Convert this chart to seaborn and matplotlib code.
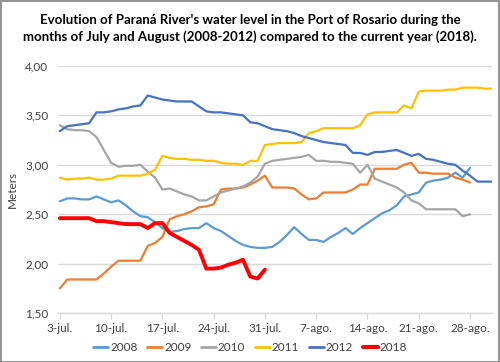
import numpy as np
import pandas as pd
import seaborn as sns
import matplotlib.pyplot as plt
import matplotlib.dates as mdates
from matplotlib.lines import Line2D

# ---- data (daily water level, meters), 3-jul .. 31-ago ----
start_date = "2018-07-03"
years = ["2008", "2009", "2010", "2011", "2012", "2018"]

y2008 = [2.63, 2.66, 2.66, 2.65, 2.65, 2.68, 2.65, 2.62, 2.64, 2.59, 2.53, 2.48, 2.47, 2.42, 2.36,
         2.32, 2.33, 2.35, 2.36, 2.36, 2.41, 2.36, 2.33, 2.28, 2.23, 2.19, 2.17, 2.16, 2.16, 2.17,
         2.22, 2.29, 2.37, 2.30, 2.24, 2.24, 2.22, 2.27, 2.31, 2.36, 2.30, 2.36, 2.41, 2.46, 2.51,
         2.54, 2.59, 2.68, 2.70, 2.72, 2.82, 2.84, 2.85, 2.87, 2.92, 2.87, 2.97]
y2009 = [1.75, 1.84, 1.84, 1.84, 1.84, 1.84, 1.90, 1.97, 2.03, 2.03, 2.03, 2.03, 2.18, 2.21, 2.27,
         2.45, 2.48, 2.50, 2.53, 2.57, 2.58, 2.60, 2.75, 2.76, 2.76, 2.77, 2.80, 2.84, 2.89, 2.77,
         2.77, 2.77, 2.76, 2.70, 2.65, 2.66, 2.72, 2.72, 2.72, 2.72, 2.75, 2.80, 2.80, 2.96, 2.96,
         2.96, 2.96, 3.00, 3.02, 2.92, 2.92, 2.91, 2.91, 2.91, 2.87, 2.85, 2.82]
y2010 = [3.40, 3.36, 3.35, 3.35, 3.34, 3.28, 3.15, 3.02, 2.98, 2.99, 2.99, 3.00, 2.93, 2.87, 2.75,
         2.76, 2.73, 2.70, 2.68, 2.64, 2.64, 2.68, 2.72, 2.74, 2.76, 2.78, 2.82, 2.88, 3.01, 3.04,
         3.05, 3.06, 3.07, 3.08, 3.10, 3.04, 3.04, 3.03, 3.03, 3.02, 3.01, 2.92, 3.00, 2.86, 2.83,
         2.80, 2.77, 2.72, 2.64, 2.61, 2.55, 2.55, 2.55, 2.55, 2.55, 2.48, 2.50]
y2011 = [2.87, 2.85, 2.86, 2.86, 2.87, 2.85, 2.85, 2.86, 2.89, 2.89, 2.89, 2.89, 2.91, 2.95, 3.09,
         3.07, 3.06, 3.06, 3.05, 3.05, 3.04, 3.04, 3.02, 3.01, 3.01, 3.00, 3.04, 3.04, 3.20, 3.21,
         3.22, 3.22, 3.22, 3.23, 3.32, 3.34, 3.37, 3.37, 3.37, 3.37, 3.37, 3.40, 3.51, 3.53, 3.53,
         3.53, 3.53, 3.60, 3.57, 3.74, 3.75, 3.75, 3.75, 3.76, 3.76, 3.78, 3.78, 3.78, 3.77, 3.77]
y2012 = [3.34, 3.39, 3.40, 3.41, 3.42, 3.53, 3.53, 3.54, 3.56, 3.57, 3.59, 3.60, 3.70, 3.68, 3.66,
         3.65, 3.64, 3.64, 3.64, 3.59, 3.54, 3.53, 3.53, 3.52, 3.51, 3.50, 3.43, 3.42, 3.39, 3.36,
         3.35, 3.34, 3.32, 3.29, 3.27, 3.25, 3.23, 3.22, 3.21, 3.20, 3.12, 3.12, 3.10, 3.13, 3.13,
         3.14, 3.15, 3.12, 3.09, 3.11, 3.06, 3.05, 3.03, 3.01, 3.00, 2.94, 2.89, 2.83, 2.83, 2.83]
y2018 = [2.46, 2.46, 2.46, 2.46, 2.46, 2.43, 2.43, 2.42, 2.41, 2.40, 2.40, 2.40, 2.36, 2.41, 2.41,
         2.31, 2.27, 2.23, 2.19, 2.14, 1.95, 1.95, 1.96, 1.99, 2.01, 2.04, 1.87, 1.85, 1.94]

tick_dates = ["2018-07-03", "2018-07-10", "2018-07-17", "2018-07-24", "2018-07-31",
              "2018-08-07", "2018-08-14", "2018-08-21", "2018-08-28"]
tick_labels = ["3-jul.", "10-jul.", "17-jul.", "24-jul.", "31-jul.",
               "7-ago.", "14-ago.", "21-ago.", "28-ago."]
y_ticks = [1.50, 2.00, 2.50, 3.00, 3.50, 4.00]

title = ("Evolution of Paraná River's water level in the Port of Rosario during the\n"
         "months of July and August (2008-2012) compared to the current year (2018).")

colors = ["#5B9BD5", "#ED7D31", "#A5A5A5", "#FFC000", "#4472C4", "#FF0000"]

# ---- long-form table ----
series = dict(zip(years, [y2008, y2009, y2010, y2011, y2012, y2018]))
frames = []
for yr, vals in series.items():
    d = pd.date_range(start_date, periods=len(vals), freq="D")
    frames.append(pd.DataFrame({"date": d, "level": vals, "year": yr}))
df = pd.concat(frames, ignore_index=True)

sns.set_theme(style="white")
plt.rcParams["font.family"] = ["Lato", "DejaVu Sans"]

fig = plt.figure(figsize=(5.0, 3.62), dpi=100)
ax = fig.add_axes([0.116, 0.135, 0.868, 0.683])

palette = dict(zip(years, colors))
for yr in years:
    sub = df[df["year"] == yr]
    sns.lineplot(data=sub, x="date", y="level", color=palette[yr],
                 linewidth=2.8 if yr == "2018" else 1.6, ax=ax, legend=False)

ax.set_ylim(1.5, 4.0)
ax.set_xlim(pd.Timestamp("2018-07-02 18:00"), pd.Timestamp("2018-08-31"))
ax.set_yticks(y_ticks)
ax.set_yticklabels([f"{v:.2f}".replace(".", ",") for v in y_ticks])
ax.set_xticks([pd.Timestamp(t) for t in tick_dates])
ax.set_xticklabels(tick_labels)
ax.tick_params(axis="both", labelsize=8.5, colors="#404040")
ax.tick_params(axis="x", length=4, color="#d9d9d9", width=1, direction="out", bottom=True, pad=3)
ax.tick_params(axis="y", length=0, pad=7)
ax.grid(axis="y", color="#d9d9d9", linewidth=1)
ax.set_axisbelow(True)
for s in ["top", "right", "left"]:
    ax.spines[s].set_visible(False)
ax.spines["bottom"].set_color("#d9d9d9")
ax.spines["bottom"].set_linewidth(1)
ax.set_xlabel("")
ax.set_ylabel("Meters", fontsize=8.5, color="#404040", labelpad=5)

fig.text(0.5, 0.922, title, ha="center", va="center", fontsize=9.5,
         fontweight="bold", color="#000000", linespacing=1.45)

handles = [Line2D([0], [0], color=c, linewidth=3.0 if y == "2018" else 2.0) for y, c in zip(years, colors)]
fig.legend(handles, years, loc="center", bbox_to_anchor=(0.5, 0.04), ncol=6, frameon=False,
           fontsize=8.5, handlelength=1.3, handletextpad=0.15, columnspacing=0.8,
           labelcolor="#404040")

fig.patches.append(plt.Rectangle((0.001, 0.001), 0.997, 0.997, transform=fig.transFigure,
                                 fill=False, edgecolor="#7f7f7f", linewidth=1.2))

fig.savefig("out.png", dpi=100)
